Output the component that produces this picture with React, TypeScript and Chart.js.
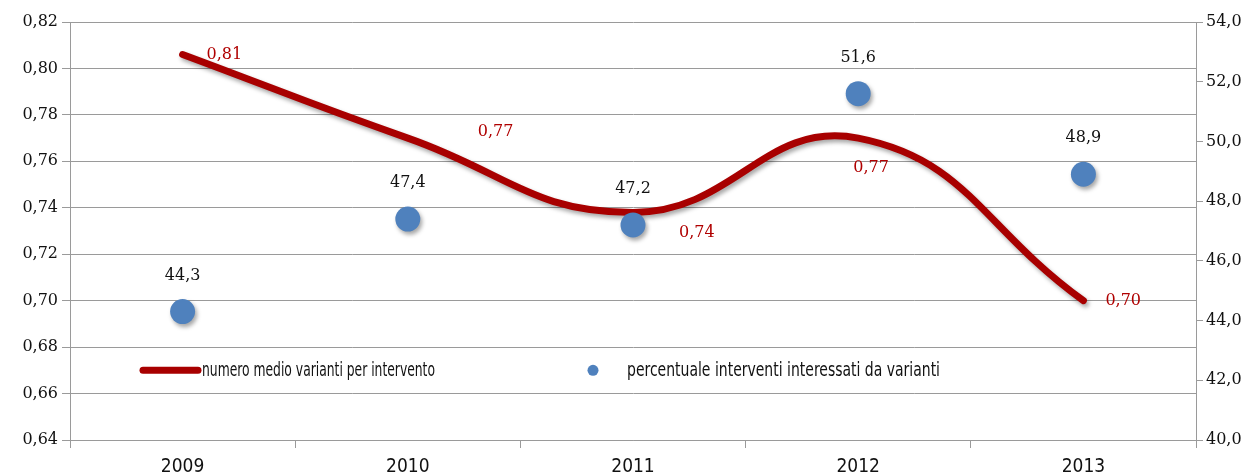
import React, { useEffect, useRef } from "react";
import { Chart, registerables } from "chart.js";

Chart.register(...registerables);

const categories = ["2009", "2010", "2011", "2012", "2013"];
const lineValues = [0.806, 0.77, 0.738, 0.77, 0.7];
const lineLabels = ["0,81", "0,77", "0,74", "0,77", "0,70"];
const dotValues = [44.3, 47.4, 47.2, 51.6, 48.9];
const dotLabels = ["44,3", "47,4", "47,2", "51,6", "48,9"];
const leftTicks = [0.64, 0.66, 0.68, 0.7, 0.72, 0.74, 0.76, 0.78, 0.8, 0.82];
const rightTicks = [40, 42, 44, 46, 48, 50, 52, 54];
const lineName = "numero medio varianti per intervento";
const dotName = "percentuale interventi interessati da varianti";

const RED = "#A80000";
const LABEL_RED = "#B00000";
const BLUE = "#4F81BD";
const GRID = "#9a9a9a";

// label placement offsets (dx, dy, align) for the line labels
const lineLabelPlacement = [
  { dx: 24, dy: 0, align: "left" },
  { dx: 70, dy: -6, align: "left" },
  { dx: 46, dy: 20, align: "left" },
  { dx: -5, dy: 30, align: "left" },
  { dx: 22, dy: 0, align: "left" },
];

const shadowPlugin = {
  id: "shadow",
  beforeDatasetDraw(chart: any) {
    const ctx = chart.ctx;
    ctx.save();
    ctx.shadowColor = "rgba(0,0,0,0.35)";
    ctx.shadowBlur = 4;
    ctx.shadowOffsetX = 2;
    ctx.shadowOffsetY = 3;
  },
  afterDatasetDraw(chart: any) {
    chart.ctx.restore();
  },
};

function fitText(ctx: any, text: string, x: number, y: number, width: number) {
  const w = ctx.measureText(text).width;
  ctx.save();
  ctx.translate(x, y);
  ctx.scale(width / w, 1);
  ctx.fillText(text, 0, 0);
  ctx.restore();
}

const labelsPlugin = {
  id: "customLabels",
  afterDatasetsDraw(chart: any) {
    const ctx = chart.ctx;
    ctx.save();
    // line labels
    const m0 = chart.getDatasetMeta(0);
    ctx.font = "16px 'DejaVu Serif'";
    ctx.fillStyle = LABEL_RED;
    ctx.textBaseline = "middle";
    m0.data.forEach((el: any, i: number) => {
      const p = lineLabelPlacement[i];
      ctx.textAlign = p.align;
      ctx.fillText(lineLabels[i], el.x + p.dx, el.y + p.dy);
    });
    // dot labels
    const m1 = chart.getDatasetMeta(1);
    ctx.fillStyle = "#111";
    ctx.textAlign = "center";
    m1.data.forEach((el: any, i: number) => {
      ctx.fillText(dotLabels[i], el.x, el.y - 36);
    });
    // legend
    const ca = chart.chartArea;
    const ly = ca.top + (ca.bottom - ca.top) * (0.82 - 0.67) / 0.18;
    const lx = ca.left + 73;
    ctx.strokeStyle = RED;
    ctx.lineWidth = 7;
    ctx.lineCap = "round";
    ctx.beginPath();
    ctx.moveTo(lx, ly);
    ctx.lineTo(lx + 55, ly);
    ctx.stroke();
    ctx.font = "20px 'DejaVu Sans Condensed', 'DejaVu Sans'";
    ctx.fillStyle = "#111";
    ctx.textAlign = "left";
    fitText(ctx, lineName, lx + 59, ly, 233);
    ctx.fillStyle = BLUE;
    ctx.beginPath();
    ctx.arc(ca.left + 523, ly, 5.5, 0, Math.PI * 2);
    ctx.fill();
    ctx.fillStyle = "#111";
    fitText(ctx, dotName, ca.left + 557, ly, 313);
    ctx.restore();
  },
};

export default function App() {
  const ref = useRef<HTMLCanvasElement>(null);
  useEffect(() => {
    if (!ref.current) return;
    const chart = new Chart(ref.current, {
      type: "line",
      data: {
        labels: categories,
        datasets: [
          {
            label: lineName,
            data: lineValues,
            borderColor: RED,
            borderWidth: 7,
            borderCapStyle: "round",
            tension: 0.45,
            pointRadius: 0,
            yAxisID: "y",
            order: 2,
          },
          {
            label: dotName,
            data: dotValues,
            showLine: false,
            pointRadius: 12.5,
            pointBackgroundColor: BLUE,
            pointBorderColor: BLUE,
            pointBorderWidth: 0,
            yAxisID: "y1",
            order: 1,
          },
        ],
      },
      options: {
        animation: false,
        responsive: false,
        layout: { padding: { top: 22, left: 0, right: 0, bottom: 0 } },
        plugins: { legend: { display: false }, tooltip: { enabled: false } },
        scales: {
          x: {
            offset: true,
            grid: { offset: true, drawOnChartArea: false, drawTicks: true, tickLength: 8, color: GRID },
            border: { color: GRID },
            ticks: { color: "#111", font: { family: "'DejaVu Sans Condensed'", size: 19 }, padding: 8 },
            afterFit(s: any) { s.height = 35; },
          },
          y: {
            position: "left",
            min: 0.64,
            max: 0.82,
            afterBuildTicks(s: any) { s.ticks = leftTicks.map((v) => ({ value: v })); },
            grid: { color: GRID, tickLength: 8 },
            border: { color: GRID },
            ticks: {
              color: "#111",
              font: { family: "'DejaVu Serif'", size: 16 },
              padding: 4,
              callback: (v: any) => Number(v).toFixed(2).replace(".", ","),
            },
            afterFit(s: any) { s.width = 70; },
          },
          y1: {
            position: "right",
            min: 40,
            max: 54,
            afterBuildTicks(s: any) { s.ticks = rightTicks.map((v) => ({ value: v })); },
            grid: { drawOnChartArea: false, color: GRID, tickLength: 7 },
            border: { color: GRID },
            ticks: {
              color: "#111",
              font: { family: "'DejaVu Serif'", size: 16 },
              padding: 3,
              callback: (v: any) => Number(v).toFixed(1).replace(".", ","),
            },
            afterFit(s: any) { s.width = 58; },
          },
        },
      },
      plugins: [shadowPlugin, labelsPlugin],
    } as any);
    return () => chart.destroy();
  }, []);
  return (
    <div style={{ position: "fixed", left: 0, top: 0, width: 1254, height: 475, background: "#fff" }}>
      <canvas ref={ref} width={1254} height={475} />
    </div>
  );
}
